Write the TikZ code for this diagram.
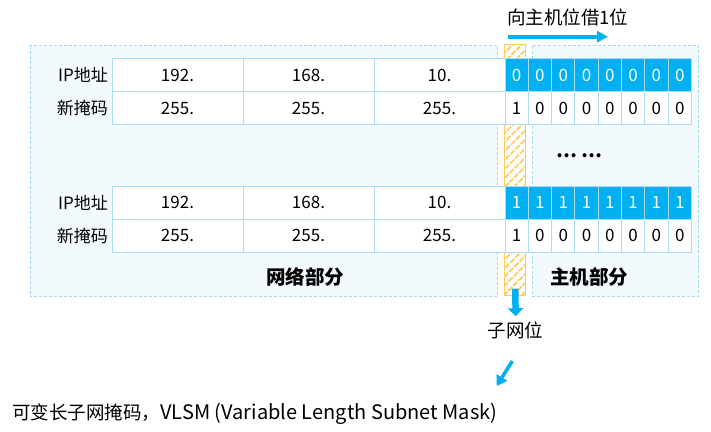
\documentclass[tikz,border=0pt]{standalone}
\usepackage{fontspec}
\setmainfont{Noto Sans CJK SC}
\usetikzlibrary{arrows.meta,patterns.meta}
\definecolor{vblue}{HTML}{00B0F0}
\definecolor{cellline}{HTML}{A9DEF6}
\definecolor{boxline}{HTML}{A0D9F2}
\definecolor{boxfill}{HTML}{F3FAFE}
\definecolor{hatch}{HTML}{FFC95C}
\tikzset{
  part/.style={draw=boxline,fill=boxfill,dash pattern=on 3pt off 2pt,line width=0.8pt},
  cell/.style={draw=cellline,fill=white,line width=1pt,minimum height=33pt,inner sep=0pt,
    font=\fontsize{17}{17}\selectfont},
  octet/.style={cell,minimum width=131pt},
  bitcell/.style={cell,minimum width=23.3pt},
  hostbit/.style={bitcell,fill=vblue,text=white},
  rowlabel/.style={anchor=east,inner sep=0pt,font=\fontsize{17}{17}\selectfont},
  partlabel/.style={inner sep=0pt,font=\fontsize{19.5}{19.5}\selectfont\bfseries},
  note/.style={inner sep=0pt,font=\fontsize{18.5}{18.5}\selectfont},
  flow/.style={draw=vblue,line width=4pt,-{Triangle[length=11pt,width=11pt]}}
}
\begin{document}
\begin{tikzpicture}[x=1pt,y=-1pt]
  \useasboundingbox (0,0) rectangle (711,431);
  % network part and host part
  \draw[part] (30,45.7) rectangle (497.7,296.3);
  \draw[part] (532.7,45.7) rectangle (698.7,296.3);
  \node[partlabel] (netpart) at (305,276.7) {网络部分};
  \node[partlabel] (hostpart) at (589,276.7) {主机部分};
  % borrowed bit strip
  \node[draw=hatch,line width=0.8pt,fill=white,inner sep=0pt,minimum width=21pt,minimum height=251pt,
    pattern={Lines[angle=45,distance=6.5pt,line width=2pt]},pattern color=hatch] (substrip) at (515.2,170.2) {};
  % the two address tables
  \foreach \t/\top/\b in {1/58.5/0,2/186/1} {
    \node[rowlabel] at (108,\top+16.5) {IP地址};
    \node[rowlabel] at (108,\top+49.5) {新掩码};
    \foreach \c/\v in {1/192.,2/168.,3/10.} {
      \node[octet] (ip\t-\c) at (112+131*\c-65.5,\top+16.5) {\v};
      \node[octet] (mask\t-\c) at (112+131*\c-65.5,\top+49.5) {255.};
    }
    \foreach \i in {1,...,8} {
      \node[hostbit] (ipbit\t-\i) at (505+23.3*\i-11.65,\top+16.5) {\b};
    }
    \node[bitcell] (maskbit\t-1) at (516.65,\top+49.5) {1};
    \foreach \i in {2,...,8} {
      \node[bitcell] (maskbit\t-\i) at (505+23.3*\i-11.65,\top+49.5) {0};
    }
  }
  \node[note] (dots) at (579,156) {\textbf{… …}};
  % borrowing arrow
  \node[note,anchor=west] (borrow) at (507,17) {向主机位借1位};
  \coordinate (borrowfrom) at (508,36.7);
  \coordinate (borrowto) at (608,36.7);
  \draw[flow] (borrowfrom) -- (borrowto);
  % subnet bit
  \node[note] (subnet) at (515.7,330) {子网位};
  \draw[flow,line width=6.5pt,-{Triangle[length=8pt,width=15pt]}] ([yshift=8pt]substrip.south) -- ([yshift=5pt]subnet.north);
  \node[note,anchor=west] (vlsm) at (12,414) {可变长子网掩码，{\fontsize{20}{20}\selectfont VLSM (Variable Length Subnet Mask)}};
  \coordinate (vlsmfrom) at (512.3,361);
  \coordinate (vlsmto) at (496.7,386);
  \draw[flow,line width=3.5pt,-{Triangle[length=10pt,width=12pt]}] (vlsmfrom) -- (vlsmto);
\end{tikzpicture}
\end{document}
